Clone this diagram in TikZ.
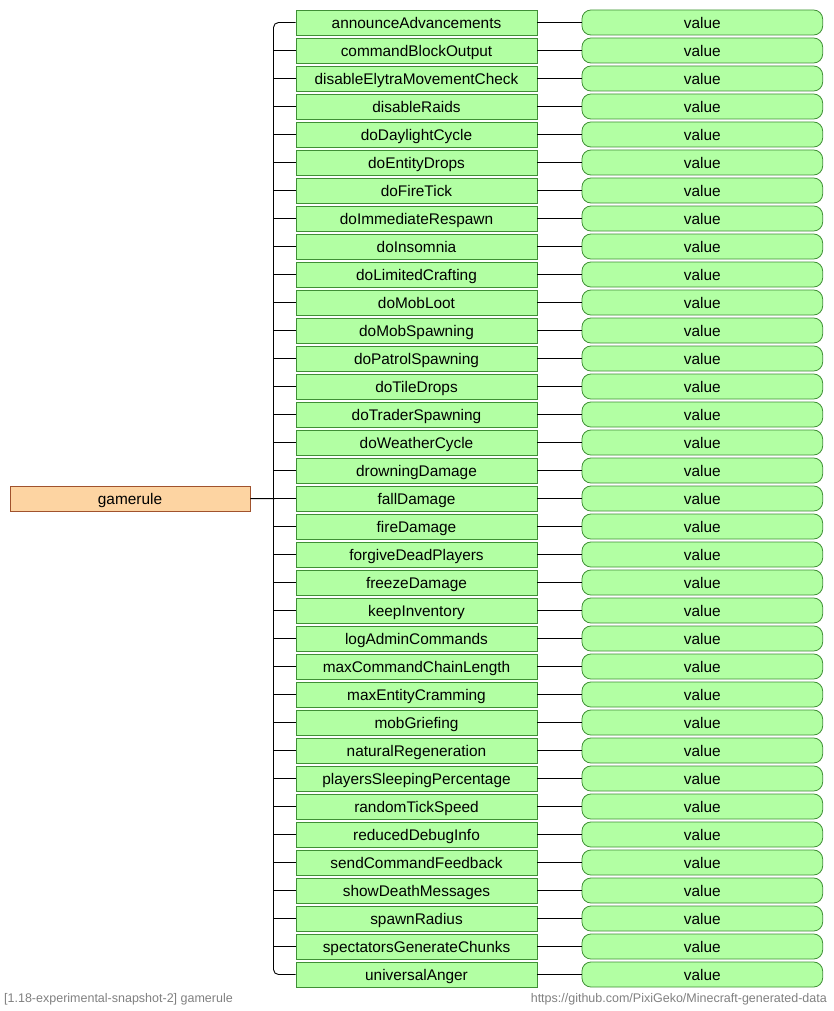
\documentclass[tikz,border=0pt]{standalone}
\usepackage{fontspec}
\setmainfont{Liberation Sans}
\definecolor{rulefill}{HTML}{B2FFA3}
\definecolor{ruleline}{HTML}{3F8F35}
\definecolor{rootfill}{HTML}{FDD4A2}
\definecolor{rootline}{HTML}{A0522D}
\definecolor{footgray}{HTML}{808080}
\tikzset{
  boxtext/.style={font=\fontsize{15.4}{18}\selectfont, text height=12pt, text depth=0.4pt, inner sep=0pt, line width=0.8pt},
  rulebox/.style={boxtext, rectangle, draw=ruleline, fill=rulefill, minimum width=241pt, minimum height=25pt},
  valuebox/.style={boxtext, rectangle, rounded corners=9pt, draw=ruleline, fill=rulefill, minimum width=240.7pt, minimum height=25pt},
  rootbox/.style={boxtext, rectangle, draw=rootline, fill=rootfill, minimum width=240pt, minimum height=25.3pt},
  link/.style={draw=black, line width=0.9pt},
  foot/.style={font=\fontsize{12.5}{15}\selectfont, text=footgray, inner sep=0pt}
}
\begin{document}
\begin{tikzpicture}[x=1pt,y=-1pt]
\useasboundingbox (0,0) rectangle (833,1011);
% game rules and their value slots
\foreach [count=\n from 0] \r in {announceAdvancements,commandBlockOutput,disableElytraMovementCheck,disableRaids,doDaylightCycle,doEntityDrops,doFireTick,doImmediateRespawn,doInsomnia,doLimitedCrafting,doMobLoot,doMobSpawning,doPatrolSpawning,doTileDrops,doTraderSpawning,doWeatherCycle,drowningDamage,fallDamage,fireDamage,forgiveDeadPlayers,freezeDamage,keepInventory,logAdminCommands,maxCommandChainLength,maxEntityCramming,mobGriefing,naturalRegeneration,playersSleepingPercentage,randomTickSpeed,reducedDebugInfo,sendCommandFeedback,showDeathMessages,spawnRadius,spectatorsGenerateChunks,universalAnger}{
  \node[rulebox] (r\n) at (416.5, 22.5+28*\n) {\r};
  \node[valuebox] (v\n) at (702.3, 22.5+28*\n) {value};
  \draw[link] (r\n.east) -- (v\n.west);
}
% root command
\node[rootbox] (g) at (130, 498.6) {gamerule};
\coordinate (bx) at (273.5, 498.5);
% bracket joining the rules
\draw[link, rounded corners=5pt] (r0.west) -| (bx) |- (r34.west);
\foreach \n in {1,...,33}{
  \draw[link] (r\n.west) -- (r\n.west -| bx);
}
\draw[link] (g.east) -- (r17.west);
% footer
\node[foot, anchor=base west] (fl) at (4, 1002.5) {[1.18-experimental-snapshot-2] gamerule};
\node[foot, anchor=base east] (fr) at (827, 1002.5) {https://github.com/PixiGeko/Minecraft-generated-data};
\end{tikzpicture}
\end{document}
